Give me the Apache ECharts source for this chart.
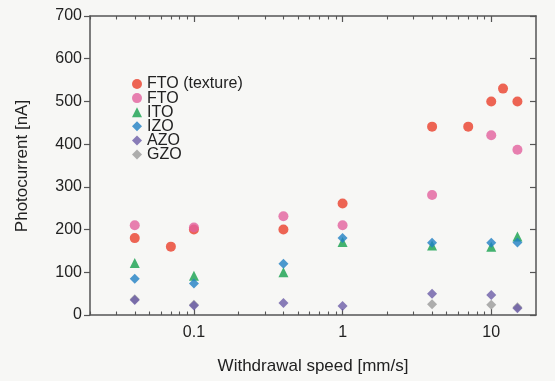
<!DOCTYPE html>
<html>
<head>
<meta charset="utf-8">
<script src="https://cdn.jsdelivr.net/npm/echarts@6/dist/echarts.min.js"></script>
<style>
html,body{margin:0;padding:0;background:#f7f7f5;}
.layer{position:absolute;left:0;top:0;width:555px;height:381px;}
</style>
</head>
<body>
<div id="frame" class="layer"></div>
<div id="c" class="layer"></div>
<script>
const seriesNames = ['FTO (texture)', 'FTO', 'ITO', 'IZO', 'AZO', 'GZO'];
const xTitle = 'Withdrawal speed [mm/s]';
const yTitle = 'Photocurrent [nA]';
const ftoTextureX = [0.04, 0.07, 0.1, 0.4, 1, 4, 7, 10, 12, 15];
const ftoTextureY = [180, 160, 200, 200, 261, 441, 441, 500, 530, 500];
const ftoX = [0.04, 0.1, 0.4, 1, 4, 10, 15];
const ftoY = [210, 205, 231, 210, 281, 421, 387];
const itoX = [0.04, 0.1, 0.4, 1, 4, 10, 15];
const itoY = [122, 92, 100, 171, 163, 160, 184];
const izoX = [0.04, 0.1, 0.4, 1, 4, 10, 15];
const izoY = [85, 74, 120, 180, 169, 169, 170];
const azoX = [0.04, 0.1, 0.4, 1, 4, 10, 15];
const azoY = [35, 22, 28, 21, 50, 47, 16];
const gzoX = [0.04, 0.1, 4, 10, 15];
const gzoY = [37, 24, 25, 24, 18];
const xMajorTicks = [0.1, 1, 10];

const pairs = (xs, ys) => xs.map((x, i) => [x, ys[i]]);
const FONT = 'Liberation Sans, Arial, sans-serif';
const AX = '#555';
const GRID = {left: 90, right: 19, top: 16, bottom: 66};

/* Layer 1: axis frame with ticks (no data) */
function frameLogAxis(pos) {
  return {
    type: 'log', min: 0.02, max: 20, position: pos,
    axisLine: {show: true, onZero: false, lineStyle: {color: AX, width: 1.5}},
    axisTick: {inside: true, length: 6, customValues: xMajorTicks, lineStyle: {color: AX, width: 1.2}},
    minorTick: {show: true, splitNumber: 9, length: 3.5, lineStyle: {color: AX, width: 1.1}},
    axisLabel: {show: false},
    splitLine: {show: false}, minorSplitLine: {show: false}
  };
}
const frame = echarts.init(document.getElementById('frame'));
frame.setOption({
  animation: false,
  grid: GRID,
  xAxis: [frameLogAxis('bottom'), frameLogAxis('top')],
  yAxis: [
    {type: 'value', min: 0, max: 700, interval: 100, position: 'left',
      axisLine: {show: true, lineStyle: {color: AX, width: 1.5}},
      axisTick: {show: true, inside: false, length: 6, lineStyle: {color: AX, width: 1.2}},
      axisLabel: {show: false}, splitLine: {show: false}},
    {type: 'value', min: 0, max: 700, interval: 100, position: 'right',
      axisLine: {show: true, lineStyle: {color: AX, width: 1.5}},
      axisTick: {show: true, inside: true, length: 6, lineStyle: {color: AX, width: 1.2}},
      axisLabel: {show: false}, splitLine: {show: false}}
  ],
  series: []
});

/* Layer 2: data, labels, legend, titles on the same grid and scales */
const chart = echarts.init(document.getElementById('c'));
chart.setOption({
  animation: false,
  grid: GRID,
  legend: {
    orient: 'vertical', left: 127, top: 71,
    data: seriesNames,
    itemWidth: 10, itemHeight: 10, itemGap: -1.9,
    textStyle: {fontSize: 16, color: '#222', fontFamily: FONT}
  },
  graphic: [
    {type: 'text', x: 313, y: 366, silent: true,
      style: {text: xTitle, fontSize: 17, fontFamily: FONT, fill: '#222', align: 'center', verticalAlign: 'middle'}},
    {type: 'text', x: 22, y: 166, rotation: Math.PI / 2, silent: true,
      style: {text: yTitle, fontSize: 17, fontFamily: FONT, fill: '#222', align: 'center', verticalAlign: 'middle'}}
  ],
  xAxis: {
    type: 'log', min: 0.02, max: 20, position: 'bottom',
    axisLine: {show: false, onZero: false}, axisTick: {show: false}, minorTick: {show: false},
    axisLabel: {customValues: xMajorTicks, margin: 10, fontSize: 16, color: '#222', fontFamily: FONT,
      formatter: v => String(+(+v).toPrecision(3))},
    splitLine: {show: false}
  },
  yAxis: {
    type: 'value', min: 0, max: 700, interval: 100, position: 'left',
    axisLine: {show: false}, axisTick: {show: false},
    axisLabel: {fontSize: 16, color: '#222', margin: 8, fontFamily: FONT},
    splitLine: {show: false}
  },
  series: [
    {name: 'FTO (texture)', type: 'scatter', symbol: 'circle', symbolSize: 10,
      itemStyle: {color: '#ea3f2a'}, data: pairs(ftoTextureX, ftoTextureY)},
    {name: 'FTO', type: 'scatter', symbol: 'circle', symbolSize: 10,
      itemStyle: {color: '#e2609e'}, data: pairs(ftoX, ftoY)},
    {name: 'ITO', type: 'scatter', symbol: 'triangle', symbolSize: 10,
      itemStyle: {color: '#15a04e'}, data: pairs(itoX, itoY)},
    {name: 'IZO', type: 'scatter', symbol: 'diamond', symbolSize: 10,
      itemStyle: {color: '#1f7fc4'}, data: pairs(izoX, izoY)},
    {name: 'GZO', type: 'scatter', symbol: 'diamond', symbolSize: 10,
      itemStyle: {color: '#9a9a9a'}, data: pairs(gzoX, gzoY)},
    {name: 'AZO', type: 'scatter', symbol: 'diamond', symbolSize: 10,
      itemStyle: {color: '#6c5ca8'}, data: pairs(azoX, azoY)}
  ]
});
</script>
</body>
</html>
